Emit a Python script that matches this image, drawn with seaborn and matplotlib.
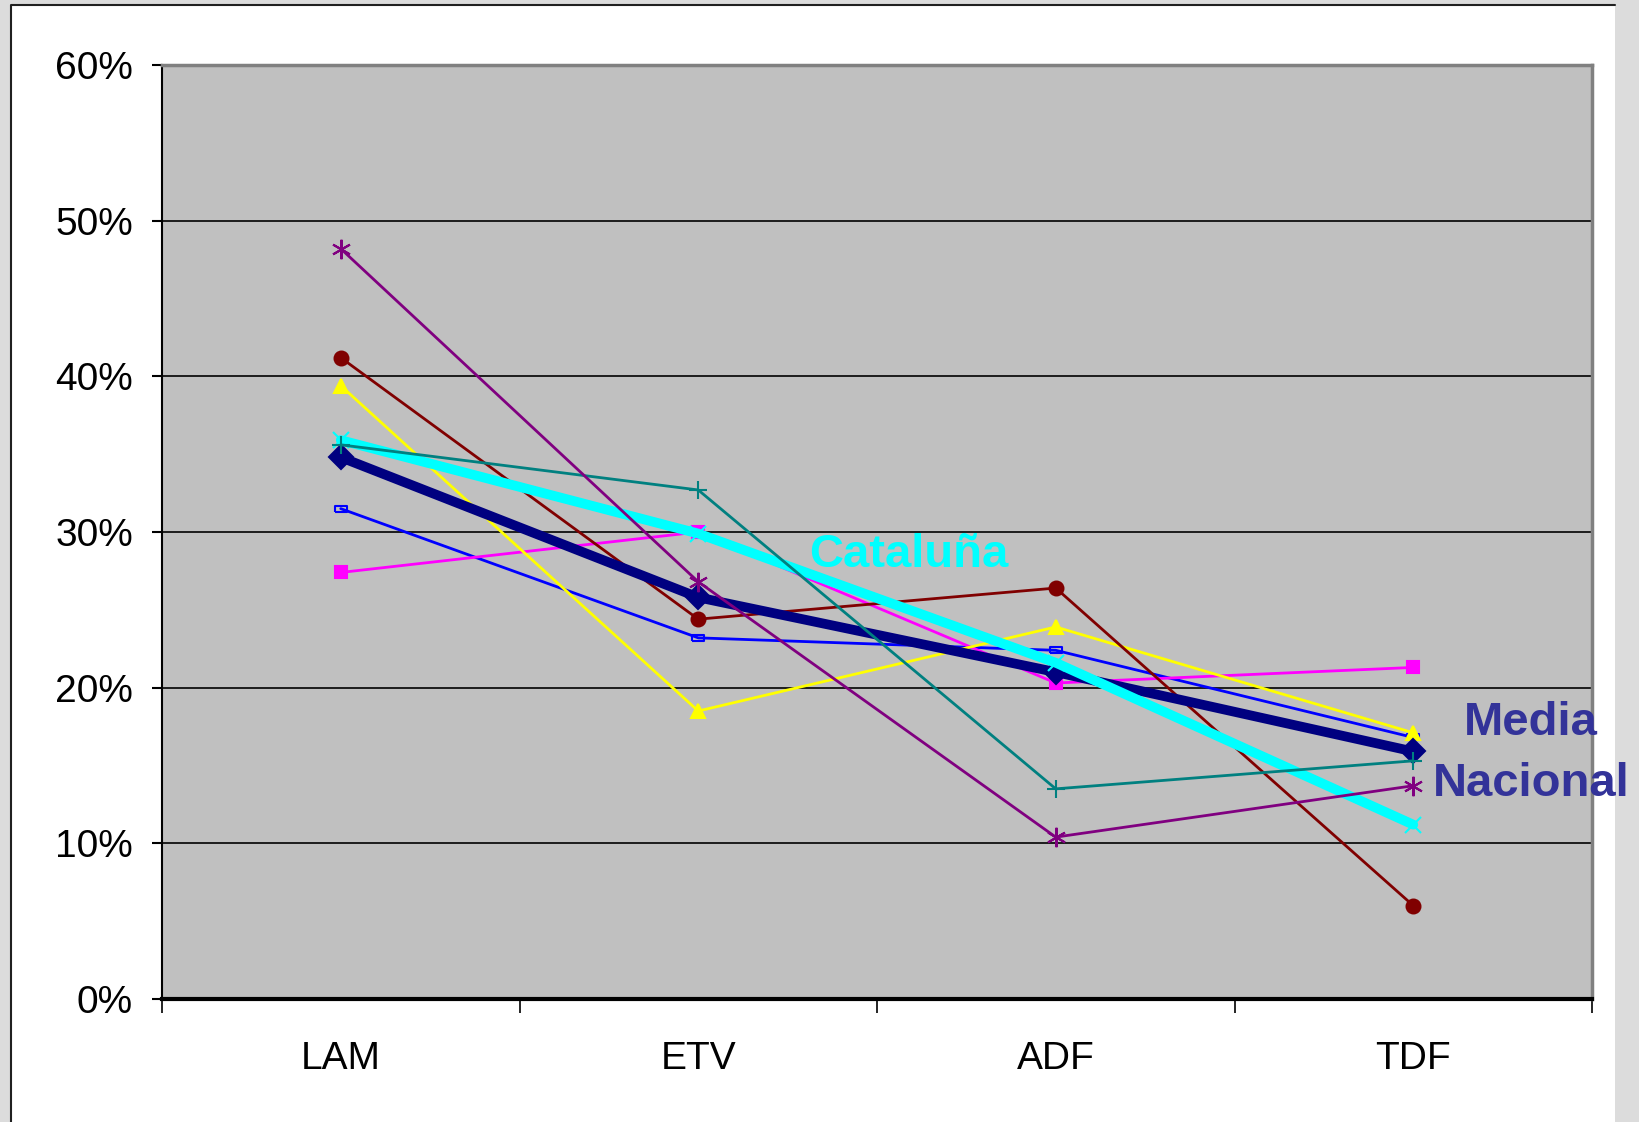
import pandas as pd
import seaborn as sns
import matplotlib.pyplot as plt
from matplotlib.patches import Rectangle
from matplotlib.lines import Line2D
from matplotlib.ticker import FixedLocator

categories = ['LAM', 'ETV', 'ADF', 'TDF']

# valores (%)
media_nacional = [34.8, 25.8, 21.0, 15.9]
cataluna = [35.9, 29.9, 21.6, 11.2]
serie_magenta = [27.4, 30.0, 20.3, 21.3]
serie_amarilla = [39.4, 18.5, 23.9, 17.1]
serie_teal = [35.6, 32.7, 13.5, 15.3]
serie_purpura = [48.2, 26.8, 10.4, 13.7]
serie_granate = [41.2, 24.4, 26.4, 6.0]
serie_azul = [31.5, 23.2, 22.4, 16.8]

yticks = [0, 10, 20, 30, 40, 50, 60]
ytick_labels = ['0%', '10%', '20%', '30%', '40%', '50%', '60%']

sns.set_style('white')
plt.rcParams['font.family'] = ['Liberation Sans', 'DejaVu Sans']
plt.rcParams['text.color'] = 'black'
plt.rcParams['xtick.color'] = 'black'
plt.rcParams['ytick.color'] = 'black'

fig = plt.figure(figsize=(16.39, 11.22), dpi=100, facecolor='#dcdcdc')
# recuadro blanco del gráfico (borde oscuro arriba e izquierda)
x0, y1 = 11 / 1639, 1 - 5 / 1122
fig.patches.append(Rectangle((x0, 0), 1615 / 1639 - x0, y1,
                             transform=fig.transFigure, facecolor='white',
                             edgecolor='none', zorder=-1))
fig.lines.append(Line2D([x0, x0, 1615 / 1639], [0, y1, y1], transform=fig.transFigure,
                        color='#202020', linewidth=1.5))

ax = fig.add_axes([162 / 1639, 1 - 999 / 1122, (1592 - 162) / 1639, (999 - 65) / 1122])
ax.set_facecolor('#c0c0c0')

x = list(range(len(categories)))
rect_marker = [(-1, -0.45), (1, -0.45), (1, 0.45), (-1, 0.45), (-1, -0.45)]

series = [
    (serie_azul, '#0000ff', 2, rect_marker, 9, 'none'),
    (serie_magenta, '#ff00ff', 2, 's', 9, '#ff00ff'),
    (serie_amarilla, '#ffff00', 2, '^', 10, '#ffff00'),
    (serie_granate, '#800000', 2, 'o', 10, '#800000'),
    (media_nacional, '#000080', 7, 'D', 12, '#000080'),
    (cataluna, '#00ffff', 7, 'x', 12, '#00ffff'),
    (serie_teal, '#008080', 2, '+', 13, '#008080'),
    (serie_purpura, '#800080', 2, (6, 2, 0), 14, '#800080'),
]

for vals, col, lw, mk, ms, mfc in series:
    df = pd.DataFrame({'x': x, 'y': vals})
    sns.lineplot(data=df, x='x', y='y', ax=ax, color=col, linewidth=lw,
                 marker=mk, markersize=ms, markerfacecolor=mfc,
                 markeredgecolor=col, markeredgewidth=1.5)

ax.set_xlim(-0.5, 3.5)
ax.set_ylim(0, 60)
ax.set_xlabel('')
ax.set_ylabel('')

ax.set_yticks(yticks)
ax.set_yticklabels(ytick_labels, fontsize=28)
ax.tick_params(axis='y', length=7, width=1.5, color='black', labelcolor='black', pad=14, left=True)

ax.xaxis.set_major_locator(FixedLocator([-0.5, 0.5, 1.5, 2.5, 3.5]))
ax.xaxis.set_major_formatter(plt.NullFormatter())
ax.xaxis.set_minor_locator(FixedLocator(x))
ax.set_xticklabels(categories, minor=True, fontsize=28)
ax.tick_params(axis='x', which='major', length=10, width=1.2, color='black', bottom=True)
ax.tick_params(axis='x', which='minor', length=0, pad=30, labelcolor='black')

for yv in yticks[1:-1]:
    ax.axhline(yv, color='black', linewidth=1.2, zorder=0.5)

ax.spines['left'].set_color('black')
ax.spines['left'].set_linewidth(1.5)
ax.spines['bottom'].set_color('black')
ax.spines['bottom'].set_linewidth(3)
ax.spines['top'].set_color('#808080')
ax.spines['top'].set_linewidth(2.5)
ax.spines['right'].set_color('#808080')
ax.spines['right'].set_linewidth(2.5)

ax.text(1.59, 28.5, 'Cataluña', color='#00ffff', fontsize=34, fontweight='bold',
        ha='center', va='center')
ax.text(3.33, 17.7, 'Media', color='#333399', fontsize=34, fontweight='bold',
        ha='center', va='center', clip_on=False)
ax.text(3.33, 13.8, 'Nacional', color='#333399', fontsize=34, fontweight='bold',
        ha='center', va='center', clip_on=False)

fig.savefig('out.png', dpi=100, facecolor=fig.get_facecolor())
